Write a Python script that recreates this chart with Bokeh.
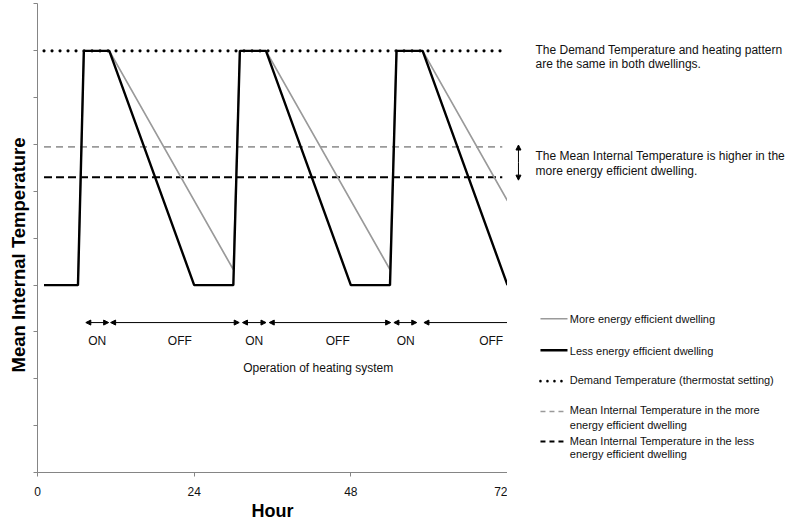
import math
from bokeh.plotting import figure
from bokeh.layouts import row
from bokeh.models import (Range1d, FixedTicker, Arrow, NormalHead, Title, ColumnDataSource,
                          CustomJSTickFormatter)
from bokeh.core.properties import value
from bokeh.embed import file_html
from bokeh.resources import INLINE

# ---------------- data ----------------
hours_less = [1, 6.2, 7.1, 11, 24, 30, 31, 35, 48, 54, 55, 59, 72]
temp_less = [4, 4, 9, 9, 4, 4, 9, 9, 4, 4, 9, 9, 4]

hours_more = [1, 6.2, 7.1, 11, 30, 31, 35, 54, 55, 59, 72]
temp_more = [4, 4, 9, 9, 4.33, 9, 9, 4.33, 9, 9, 5.8]

demand_hours = [1, 71.5]
demand_temp = [9, 9]

mean_hours = [1, 71.2]
mean_more = [6.95, 6.95]
mean_less = [6.3, 6.3]

period_start = [7.4, 11.2, 31.4, 35.5, 54.6, 59.2]
period_end = [10.9, 30.9, 35.0, 54.1, 58.1, 72]
period_label = ["ON", "OFF", "ON", "OFF", "ON", "OFF"]
period_label_hour = [9.15, 21.8, 33.2, 46.0, 56.4, 69.5]

x_ticks = [0, 24, 48, 72]
y_ticks = list(range(11))

legend_lines = [
    "More energy efficient dwelling",
    "Less energy efficient dwelling",
    "Demand Temperature (thermostat setting)",
    "Mean Internal  Temperature in the more",
    "energy efficient dwelling",
    "Mean Internal  Temperature in the less",
    "energy efficient dwelling",
]

note_lines = [
    "The Demand Temperature and heating pattern",
    "are the same in both dwellings.",
    "The Mean Internal Temperature is higher in the",
    "more energy efficient dwelling.",
]

# ---------------- layout constants ----------------
FONT = "Liberation Sans"
GRAY = "#9a9a9a"
AXIS = "#858585"
TXT = "#111111"
PX_PER_HOUR = 470 / 72.0
Y_TOP = 473 / 46.95

yr = Range1d(0, Y_TOP)

p = figure(width=507, height=523, x_range=Range1d(0, 72), y_range=yr,
           output_backend="svg", toolbar_location=None,
           min_border_left=37, min_border_right=0, min_border_top=0, min_border_bottom=50)
p.outline_line_color = None
p.grid.visible = False

p.xaxis.ticker = FixedTicker(ticks=x_ticks)
p.xaxis.major_tick_in = 0
p.xaxis.major_tick_out = 4
p.xaxis.minor_tick_line_color = None
p.xaxis.axis_line_color = AXIS
p.xaxis.major_tick_line_color = AXIS
p.xaxis.major_label_text_font = FONT
p.xaxis.major_label_text_font_size = "12px"
p.xaxis.major_label_text_color = TXT
p.xaxis.major_label_standoff = 10
p.xaxis.axis_label = "Hour"
p.xaxis.axis_label_text_font = FONT
p.xaxis.axis_label_text_font_size = "18px"
p.xaxis.axis_label_text_font_style = "bold"
p.xaxis.axis_label_text_color = "black"
p.xaxis.axis_label_standoff = 2

p.yaxis.ticker = FixedTicker(ticks=y_ticks)
p.yaxis.bounds = (0, 10)
p.yaxis.major_tick_in = 0
p.yaxis.major_tick_out = 4
p.yaxis.minor_tick_line_color = None
p.yaxis.axis_line_color = AXIS
p.yaxis.major_tick_line_color = AXIS
p.yaxis.formatter = CustomJSTickFormatter(code="return ''")
p.yaxis.major_label_standoff = 0

p.add_layout(Title(text="Mean Internal Temperature", align="left", offset=100,
                   text_font=FONT, text_font_size="18.5px", text_font_style="bold",
                   text_color="black", standoff=9), "left")

# reference lines
p.line(mean_hours, mean_more, line_color=GRAY, line_width=1.6, line_dash="7 5")
p.line(mean_hours, mean_less, line_color="black", line_width=2, line_dash="8 4")
p.line(demand_hours, demand_temp, line_color="black", line_width=3.2, line_dash="0 8", line_cap="round")

# temperature profiles
p.line(hours_more, temp_more, line_color=GRAY, line_width=1.7)
p.line(hours_less, temp_less, line_color="black", line_width=2.4)

# heating operation arrows
arrow_y = 3.2
src_heads = ColumnDataSource(dict(x0=period_start[:-1], x1=period_end[:-1],
                                  y0=[arrow_y] * 5, y1=[arrow_y] * 5))
p.add_layout(Arrow(x_start="x0", y_start="y0", x_end="x1", y_end="y1", source=src_heads,
                   line_width=1, line_color="black",
                   start=NormalHead(size=5, fill_color="black", line_color="black", line_width=1),
                   end=NormalHead(size=5, fill_color="black", line_color="black", line_width=1)))
p.add_layout(Arrow(x_start=period_start[-1], y_start=arrow_y, x_end=period_end[-1], y_end=arrow_y,
                   line_width=1, line_color="black",
                   start=NormalHead(size=5, fill_color="black", line_color="black", line_width=1),
                   end=None))
p.text(period_label_hour, [2.81] * len(period_label), text=period_label,
       text_font=value(FONT), text_font_size=value("12px"), text_align="center",
       text_baseline="middle", text_color=TXT)
p.text([43.0], [2.23], text=["Operation of heating system"],
       text_font=value(FONT), text_font_size=value("12px"), text_align="center",
       text_baseline="middle", text_color=TXT)

# ---------------- right-hand panel: notes and legend ----------------
q = figure(width=293, height=523, x_range=Range1d(72, 72 + 293 / PX_PER_HOUR), y_range=yr,
           output_backend="svg", toolbar_location=None,
           x_axis_location=None, y_axis_location=None,
           min_border_left=0, min_border_right=0, min_border_top=0, min_border_bottom=50)
q.outline_line_color = None
q.grid.visible = False

q.text([76.29] * 4, [9.02, 8.71, 6.76, 6.43], text=note_lines,
       text_font=value(FONT), text_font_size=value("12px"), text_align="left",
       text_baseline="middle", text_color=TXT)
q.add_layout(Arrow(x_start=73.68, y_start=6.62, x_end=73.68, y_end=6.99, line_width=1,
                   start=None, end=NormalHead(size=5, fill_color="black", line_width=1)))
q.add_layout(Arrow(x_start=73.68, y_start=6.62, x_end=73.68, y_end=6.24, line_width=1,
                   start=None, end=NormalHead(size=5, fill_color="black", line_width=1)))

lx = [77.05, 81.19]
q.line(lx, [3.28, 3.28], line_color=GRAY, line_width=1.5)
q.line(lx, [2.61, 2.61], line_color="black", line_width=2.4)
q.line(lx, [1.95, 1.95], line_color="black", line_width=2.6, line_dash="0 7", line_cap="round")
q.line(lx, [1.30, 1.30], line_color=GRAY, line_width=1.5, line_dash="5 4")
q.line(lx, [0.66, 0.66], line_color="black", line_width=2, line_dash="5 4")
q.text([81.54] * 7, [3.27, 2.60, 1.98, 1.33, 1.02, 0.67, 0.40], text=legend_lines,
       text_font=value(FONT), text_font_size=value("11px"), text_align="left",
       text_baseline="middle", text_color=TXT)

layout = row(p, q, spacing=0)
open("out.html", "w").write(file_html(layout, INLINE))
